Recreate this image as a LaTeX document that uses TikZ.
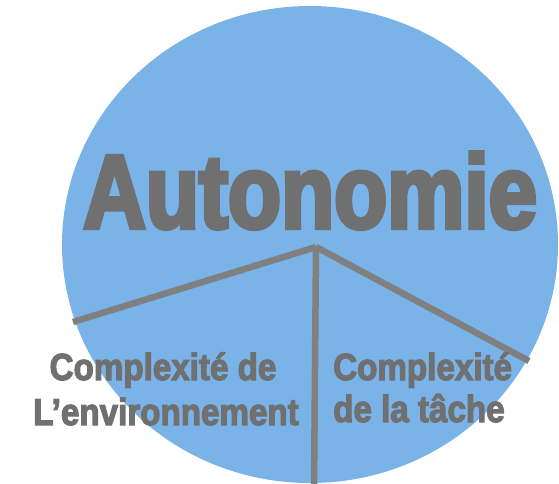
\documentclass[tikz,border=0pt]{standalone}
\usepackage{fontspec}
\newfontfamily\grandefonte[FakeStretch=0.83,FakeBold=4]{Liberation Sans Bold}
\newfontfamily\petitefonte[FakeStretch=0.88,FakeBold=3]{Liberation Sans Bold}
\definecolor{bleu}{RGB}{122,179,232}
\definecolor{grisfonce}{RGB}{112,112,112}
\definecolor{grisligne}{RGB}{128,128,128}

\begin{document}
\begin{tikzpicture}[x=1pt,y=-1pt]
   \tikzset{ligne/.style={grisligne,line width=6.5pt},
            titre/.style={grisfonce,inner sep=0pt,font=\fontsize{104.7}{110}\grandefonte\selectfont},
            etiquette/.style={grisfonce,inner sep=0pt,font=\fontsize{37.7}{44}\petitefonte\selectfont}}
   \useasboundingbox (0,0) rectangle (559,483);
   \fill[bleu] (310,244.5) ellipse [x radius=248,y radius=238.5];
   % le titre
   \node[titre,anchor=base west] (autonomie) at (83,228) {Autonomie};
   % les trois traits
   \coordinate (sommet) at (316,247);
   \coordinate (gauche) at (73,322);
   \coordinate (droite) at (529,361);
   \coordinate (bas) at (314,490);
   \draw[ligne] (sommet) -- (gauche);
   \draw[ligne] (sommet) -- (droite);
   \draw[ligne] (sommet) -- (bas);
   % les etiquettes
   \node[etiquette,anchor=base] (envun) at (163,380) {Complexité de};
   \node[etiquette,anchor=base] (envdeux) at (166,425) {L’environnement};
   \node[etiquette,anchor=base west] (tacheun) at (333,380) {Complexité};
   \node[etiquette,anchor=base west] (tachedeux) at (333,422) {de la tâche};
\end{tikzpicture}
\end{document}
